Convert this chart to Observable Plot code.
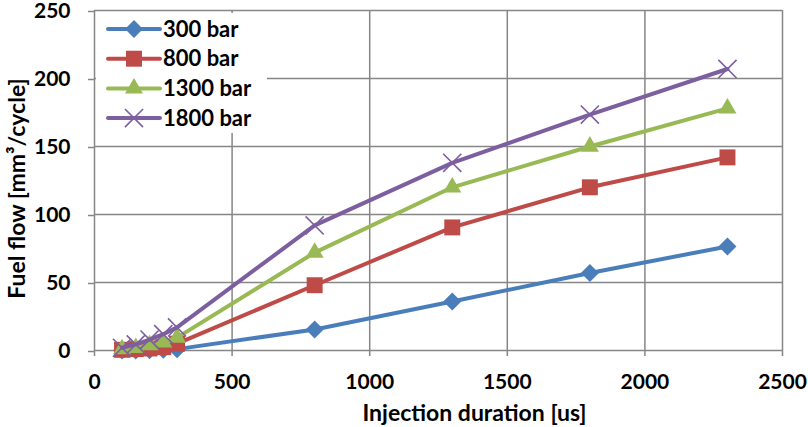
<!DOCTYPE html>
<html>
<head>
<meta charset="utf-8">
<script src="https://cdn.jsdelivr.net/npm/d3@7"></script>
<script src="https://cdn.jsdelivr.net/npm/@observablehq/plot@0.6"></script>
<style>
  html, body { margin: 0; padding: 0; background: #fff; }
  #chart { position: relative; width: 808px; height: 427px; }
</style>
</head>
<body>
<div id="chart"></div>
<script>
// Data
const durations = [100, 150, 200, 250, 300, 800, 1300, 1800, 2300];
const flow300  = [0, 0, 0.2, 0.5, 1, 15.5, 36, 57, 76.5];
const flow800  = [0.5, 1, 1.5, 2.5, 5, 48, 90.5, 120, 142];
const flow1300 = [1, 2, 4, 6, 9.5, 72, 120, 150, 178];
const flow1800 = [2, 4.5, 8, 12, 17, 92, 138, 173.5, 207];
const seriesNames = ["300 bar", "800 bar", "1300 bar", "1800 bar"];
const xTicks = [0, 500, 1000, 1500, 2000, 2500];
const yTicks = [0, 50, 100, 150, 200, 250];
const xTitle = "Injection duration [us]";
const yTitle = "Fuel flow [mm³/cycle]";

const colors = ["#4A7EBB", "#BE4B48", "#98B954", "#7D5FA0"];
const symbols = ["diamond2", "square", "triangle2", "times"];
const radii = [8.1, 9.0, 8.6, 8.3];
const allFlows = [flow300, flow800, flow1300, flow1800];

const grid = "#868686";
const font = "Lato, 'Open Sans', sans-serif";

const marks = [
  Plot.gridX(xTicks, {stroke: grid, strokeOpacity: 1, strokeWidth: 1.5}),
  Plot.gridY(yTicks, {stroke: grid, strokeOpacity: 1, strokeWidth: 1.5}),
  Plot.axisX(xTicks, {tickSize: 6, tickPadding: 18, stroke: grid, strokeWidth: 1.5, label: null, fill: "black", tickFormat: d3.format("d"), fontSize: 21, fontWeight: "bold"}),
  Plot.axisY(yTicks, {tickSize: 6, tickPadding: 18, stroke: grid, strokeWidth: 1.5, label: null, fill: "black", tickFormat: d3.format("d"), fontSize: 21, fontWeight: "bold", dy: 1})
];

allFlows.forEach((vals, i) => {
  const data = durations.map((d, j) => ({x: d, y: vals[j]}));
  marks.push(Plot.line(data, {x: "x", y: "y", stroke: colors[i], strokeWidth: 4, strokeLinejoin: "round", strokeLinecap: "round"}));
  if (symbols[i] === "times") {
    marks.push(Plot.dot(data, {x: "x", y: "y", symbol: "times", r: radii[i], stroke: colors[i], strokeWidth: 1.6, fill: "none"}));
  } else {
    marks.push(Plot.dot(data, {x: "x", y: "y", symbol: symbols[i], r: radii[i], fill: colors[i], stroke: "none"}));
  }
});

marks.push(Plot.text([xTitle], {frameAnchor: "bottom", text: d => d, textAnchor: "middle", dx: 36, dy: 70, fontSize: 23, fontWeight: "bold", fill: "black"}));
marks.push(Plot.text([yTitle], {frameAnchor: "left", text: d => d, textAnchor: "middle", rotate: -90, dx: -77, dy: 8, fontSize: 23, fontWeight: "bold", fill: "black"}));

const chart = Plot.plot({
  width: 808,
  height: 427,
  marginLeft: 94,
  marginRight: 26,
  marginTop: 10,
  marginBottom: 77,
  x: {domain: [0, 2500]},
  y: {domain: [0, 250]},
  style: {fontFamily: font, fontSize: "21px", fontWeight: "bold", color: "black", background: "white"},
  marks
});

// Legend inside the plot area (top-left)
const svg = d3.select(chart);
const lg = svg.append("g").attr("class", "legend");
lg.append("rect").attr("x", 96).attr("y", 13).attr("width", 171).attr("height", 120).attr("fill", "white");
const symMap = {diamond2: d3.symbolDiamond2, square: d3.symbolSquare, triangle2: d3.symbolTriangle2, times: d3.symbolTimes};
seriesNames.forEach((name, i) => {
  const cy = 29 + i * 29.7;
  const g = lg.append("g");
  g.append("line").attr("x1", 108).attr("x2", 160).attr("y1", cy).attr("y2", cy)
    .attr("stroke", colors[i]).attr("stroke-width", 4).attr("stroke-linecap", "round");
  const size = Math.PI * radii[i] * radii[i];
  const p = g.append("path").attr("d", d3.symbol(symMap[symbols[i]], size)()).attr("transform", `translate(134,${cy})`);
  if (symbols[i] === "times") p.attr("stroke", colors[i]).attr("stroke-width", 1.6).attr("fill", "none");
  else p.attr("fill", colors[i]);
  g.append("text").attr("x", 163).attr("y", cy).attr("dy", "0.35em")
    .attr("text-anchor", "start")
    .style("font-family", font).style("font-size", "22px").style("font-weight", "bold").attr("fill", "black").text(name);
});

document.getElementById("chart").appendChild(chart);
</script>
</body>
</html>
